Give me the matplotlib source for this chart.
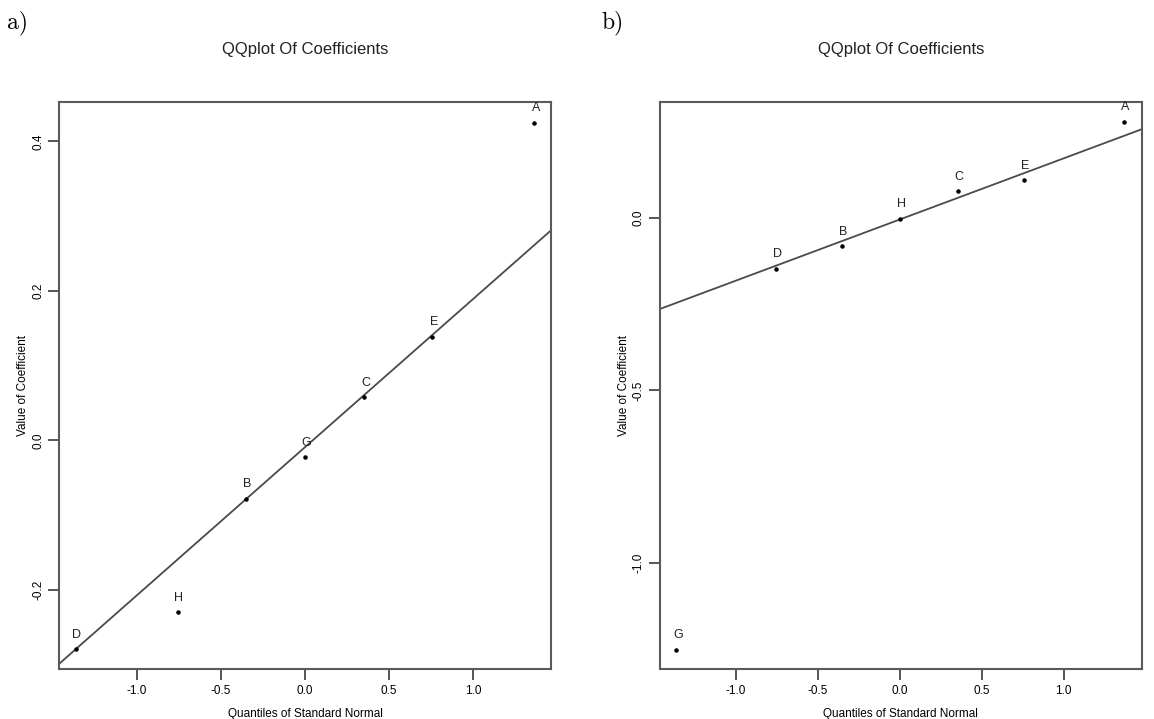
import matplotlib
matplotlib.use('Agg')
import matplotlib.pyplot as plt

plt.rcParams['font.family'] = ['Liberation Sans', 'DejaVu Sans']
plt.rcParams['axes.unicode_minus'] = False

# normal quantiles for 7 effects
quantiles = [-1.365, -0.758, -0.353, 0.0, 0.353, 0.758, 1.365]

# panel a
labels_a = ['D', 'H', 'B', 'G', 'C', 'E', 'A']
values_a = [-0.279, -0.230, -0.078, -0.022, 0.058, 0.139, 0.425]
line_a = (-0.009, 0.198)  # intercept, slope

# panel b
labels_b = ['G', 'D', 'B', 'H', 'C', 'E', 'A']
values_b = [-1.251, -0.148, -0.083, -0.003, 0.076, 0.108, 0.278]
line_b = (-0.005, 0.177)

xticks = [-1.0, -0.5, 0.0, 0.5, 1.0]
xticklabels = ['-1.0', '-0.5', '0.0', '0.5', '1.0']
yticks_a = [-0.2, 0.0, 0.2, 0.4]
yticklabels_a = ['-0.2', '0.0', '0.2', '0.4']
yticks_b = [-1.0, -0.5, 0.0]
yticklabels_b = ['-1.0', '-0.5', '0.0']

W, H = 1154, 719
fig = plt.figure(figsize=(W / 100, H / 100), dpi=100)


def qq_panel(rect, labels, values, line, xlim, ylim, yticks, yticklabels, tag, tag_x):
    ax = fig.add_axes(rect)
    ax.set_xlim(*xlim)
    ax.set_ylim(*ylim)
    # reference line across the full x-range
    a, b = line
    ax.plot(list(xlim), [a + b * xlim[0], a + b * xlim[1]], color='#4a4a4a', linewidth=1.3, zorder=2)
    ax.scatter(quantiles, values, s=5, color='black', zorder=3)
    for q, v, lab in zip(quantiles, values, labels):
        ax.annotate(lab, (q, v), xytext=(1, 6), textcoords='offset points',
                    ha='center', va='bottom', fontsize=9, color='#222222')

    ax.set_xticks(xticks)
    ax.set_xticklabels(xticklabels)
    ax.set_yticks(yticks)
    ax.set_yticklabels(yticklabels, rotation=90, va='center')
    ax.tick_params(axis='both', direction='out', length=8, width=1.4, color='#555555',
                   labelsize=8.5, pad=3)
    for sp in ax.spines.values():
        sp.set_color('#5a5a5a')
        sp.set_linewidth(1.5)
    ax.set_title('QQplot Of Coefficients', fontsize=12, pad=34, color='#222222')
    ax.set_xlabel('Quantiles of Standard Normal', fontsize=8.5, labelpad=8)
    ax.set_ylabel('Value of Coefficient', fontsize=8.5, labelpad=2)
    fig.text(tag_x, 0.985, tag, family='cmr10', fontsize=17, va='top', ha='left')
    return ax


qq_panel([59.3 / W, (H - 669.3) / H, 491.3 / W, 567.6 / H], labels_a, values_a, line_a,
         (-1.462, 1.462), (-0.306, 0.453), yticks_a, yticklabels_a, 'a)', 0.006)
qq_panel([660 / W, (H - 669.3) / H, 481.7 / W, 567.6 / H], labels_b, values_b, line_b,
         (-1.465, 1.476), (-1.308, 0.336), yticks_b, yticklabels_b, 'b)', 0.521)

fig.savefig('out.png', dpi=100)
